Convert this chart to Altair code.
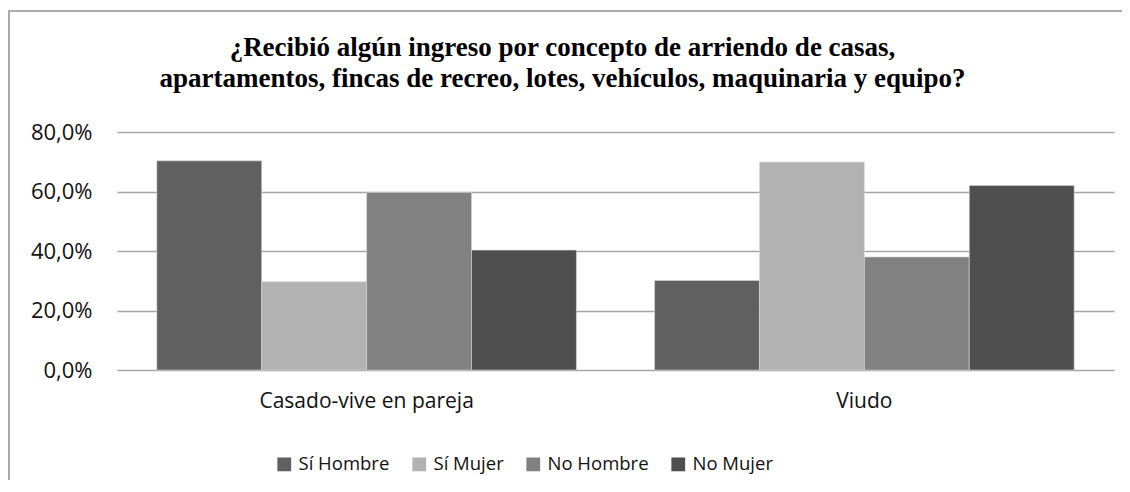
import altair as alt
import pandas as pd

categories = ["Casado-vive en pareja", "Viudo"]
series = ["Sí Hombre", "Sí Mujer", "No Hombre", "No Mujer"]
casado = [70.3, 29.7, 59.7, 40.3]
viudo = [30.1, 69.9, 38.0, 62.0]
colors = ["#606060", "#b2b2b2", "#818181", "#4f4f4f"]
y_ticks = [0, 20, 40, 60, 80]
title_lines = [
    "¿Recibió algún ingreso por concepto de arriendo de casas,",
    "apartamentos, fincas de recreo, lotes, vehículos, maquinaria y equipo?",
]

rows = []
for cat, vals in zip(categories, [casado, viudo]):
    for s, v in zip(series, vals):
        rows.append({"cat": cat, "serie": s, "valor": v})
df = pd.DataFrame(rows)

W, H = 997, 238
PL, PT, PR, PB = 109, 124, 8, 110

bars = alt.Chart(df).mark_bar(stroke="#d8d8d8", strokeWidth=0.6).encode(
    x=alt.X("cat:N", sort=categories, title=None,
            scale=alt.Scale(paddingInner=0.157, paddingOuter=0.08),
            axis=alt.Axis(labelAngle=0, ticks=False, domain=False, grid=False,
                          labelFont="Open Sans", labelFontSize=21, labelColor="#111111",
                          labelPadding=20, labelLimit=0)),
    xOffset=alt.XOffset("serie:N", sort=series,
                        scale=alt.Scale(paddingInner=0, paddingOuter=0)),
    y=alt.Y("valor:Q", title=None,
            scale=alt.Scale(domain=[0, 80], nice=False),
            axis=alt.Axis(values=y_ticks, ticks=False, domain=False, grid=True,
                          gridColor="#a6a6a6", gridWidth=1.5,
                          labelFont="Open Sans", labelFontSize=22, labelColor="#111111",
                          labelPadding=25,
                          labelExpr="replace(format(datum.value, '.1f'), '.', ',') + '%'")),
    color=alt.Color("serie:N", sort=series, title=None,
                    scale=alt.Scale(domain=series, range=colors),
                    legend=alt.Legend(orient="none", legendX=158, legendY=323,
                                      direction="horizontal", symbolType="square",
                                      symbolSize=190, symbolStrokeWidth=0,
                                      labelFont="Open Sans", labelFontSize=18.5,
                                      labelColor="#111111", labelOffset=5,
                                      columnPadding=20)),
)

frame_data = alt.Data(values=[{"k": 1}])
left_border = alt.Chart(frame_data).mark_rule(color="#ababab", strokeWidth=2).encode(
    x=alt.value(-108), y=alt.value(-121), y2=alt.value(400))
top_border = alt.Chart(frame_data).mark_rule(color="#ababab", strokeWidth=2).encode(
    x=alt.value(-109), x2=alt.value(1030), y=alt.value(-121))

chart = alt.layer(bars, left_border, top_border).properties(
    width=W, height=H,
    padding={"left": PL, "top": PT, "right": PR, "bottom": PB},
    autosize=alt.AutoSizeParams(type="none"),
    title=alt.TitleParams(text=title_lines, font="Liberation Serif", fontSize=27,
                          fontWeight="bold", color="#000000", anchor="middle",
                          frame="group", dx=-53, offset=-83, lineHeight=31),
).configure(background="white", view=alt.ViewConfig(stroke=None))

chart.save("out.html", embed_options={"renderer": "svg", "actions": False})
